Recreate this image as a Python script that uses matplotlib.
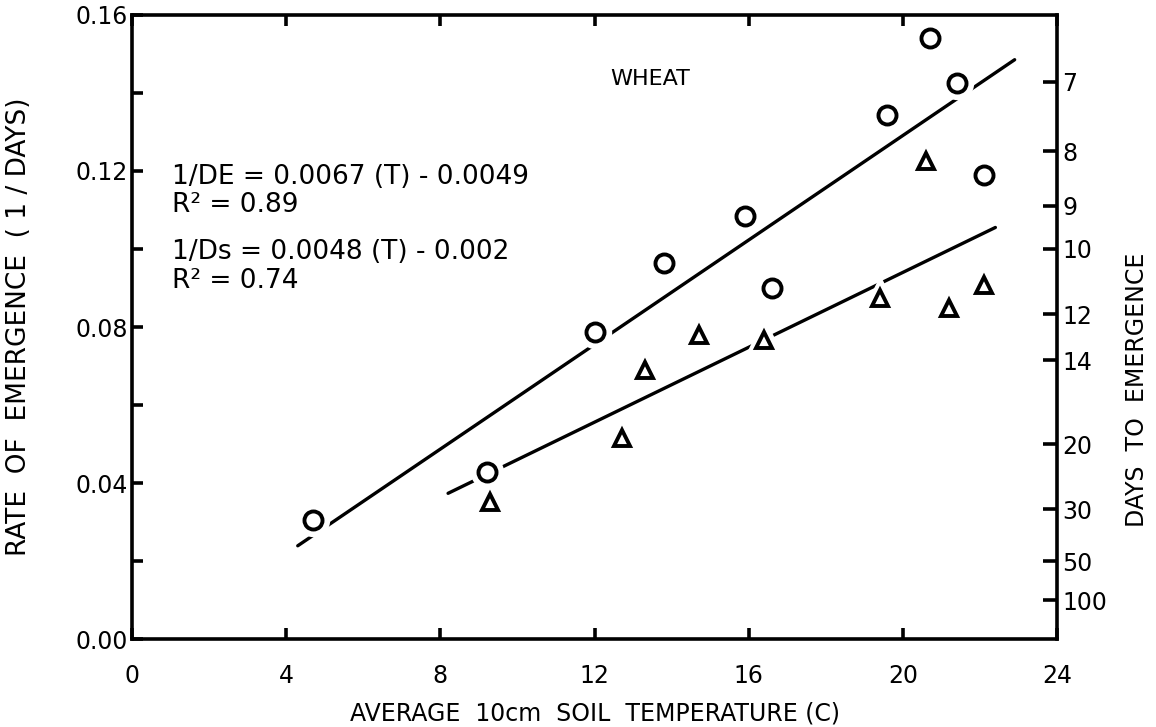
import matplotlib
matplotlib.use("Agg")
import matplotlib.pyplot as plt
import numpy as np

# ---- data ----
emerg_T = [4.7, 9.2, 12.0, 13.8, 15.9, 16.6, 19.6, 20.7, 21.4, 22.1]
emerg_R = [0.0305, 0.0429, 0.0788, 0.0964, 0.1085, 0.0900, 0.1344, 0.1540, 0.1426, 0.1190]
start_T = [9.3, 12.7, 13.3, 14.7, 16.4, 19.4, 20.6, 21.2, 22.1]
start_R = [0.0352, 0.0515, 0.0690, 0.0780, 0.0767, 0.0874, 0.1226, 0.0850, 0.0908]

fit_E = (0.0067, -0.0049)   # slope, intercept
fit_E_range = [4.3, 22.9]
fit_S = (0.0048, -0.002)
fit_S_range = [8.2, 22.4]

x_ticks = [0, 4, 8, 12, 16, 20, 24]
y_ticks_major = [0.00, 0.04, 0.08, 0.12, 0.16]
y_ticks_minor = [0.02, 0.06, 0.10, 0.14]
days_ticks = [7, 8, 9, 10, 12, 14, 20, 30, 50, 100]

plt.rcParams['font.family'] = ['DejaVu Sans']
fig = plt.figure(figsize=(11.56, 7.27), dpi=100)
ax = fig.add_axes([0.1142, 0.121, 0.8002, 0.8584])
ax.set_xlim(0, 24)
ax.set_ylim(0, 0.16)

lw = 2.4
# regression lines
for (m, b), rng in [(fit_E, fit_E_range), (fit_S, fit_S_range)]:
    xs = np.array(rng)
    ax.plot(xs, m * xs + b, color='black', lw=lw, solid_capstyle='round', zorder=2)

# white halos to break lines near markers
ax.plot(emerg_T, emerg_R, 'o', ms=15, mfc='white', mec='white', mew=9, ls='none', zorder=3)
ax.plot(start_T, start_R, '^', ms=13, mfc='white', mec='white', mew=9, ls='none', zorder=3)
# markers
ax.plot(emerg_T, emerg_R, 'o', ms=13, mfc='white', mec='black', mew=2.8, ls='none', zorder=4)
ax.plot(start_T, start_R, '^', ms=12, mfc='white', mec='black', mew=2.8, ls='none', zorder=4)

# axes styling
for s in ax.spines.values():
    s.set_linewidth(2.6)
ax.set_xticks(x_ticks)
ax.set_xticklabels([str(t) for t in x_ticks], fontsize=17)
ax.set_yticks(y_ticks_major)
ax.set_yticklabels(['%.2f' % t for t in y_ticks_major], fontsize=17)
ax.set_yticks(y_ticks_minor, minor=True)
ax.tick_params(axis='both', which='both', direction='in', width=2.6)
ax.tick_params(axis='x', which='major', length=8, top=True, pad=18)
ax.tick_params(axis='y', which='both', length=8, pad=3)

# right axis: days to emergence
ax2 = ax.twinx()
ax2.set_ylim(0, 0.16)
ax2.set_yticks([1.0 / d for d in days_ticks])
ax2.set_yticklabels([str(d) for d in days_ticks], fontsize=17)
ax2.tick_params(axis='y', direction='in', length=10, width=2.6, pad=4)
for s in ax2.spines.values():
    s.set_visible(False)

ax.set_xlabel('AVERAGE  10cm  SOIL  TEMPERATURE (C)', fontsize=17, labelpad=10)
ax.set_ylabel('RATE  OF  EMERGENCE  ( 1 / DAYS)', fontsize=19)
ax.yaxis.set_label_coords(-0.108, 0.5)
ax2.set_ylabel('DAYS  TO  EMERGENCE', fontsize=17)
ax2.yaxis.set_label_coords(1.073, 0.40)

ax.text(12.4, 0.1435, 'WHEAT', fontsize=16, ha='left', va='center')
ax.text(1.05, 0.1185, '1/DE = 0.0067 (T) - 0.0049', fontsize=19, ha='left', va='center')
ax.text(1.05, 0.1112, 'R² = 0.89', fontsize=19, ha='left', va='center')
ax.text(1.05, 0.0992, '1/Ds = 0.0048 (T) - 0.002', fontsize=19, ha='left', va='center')
ax.text(1.05, 0.0917, 'R² = 0.74', fontsize=19, ha='left', va='center')

fig.savefig('out.png', dpi=100)
